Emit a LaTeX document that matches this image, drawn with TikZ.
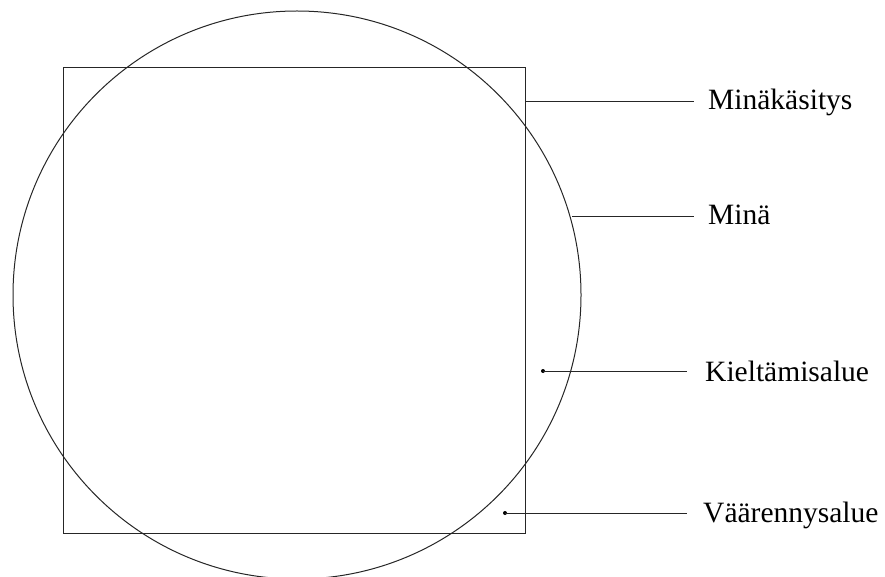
\documentclass[tikz,border=0pt]{standalone}
\usepackage{fontspec}
\setmainfont{Liberation Serif}
\begin{document}
\begin{tikzpicture}[x=1pt,y=-1pt,
  shape line/.style={line width=1pt,draw=black!85},
  leader/.style={line width=1pt,draw=black!85},
  label text/.style={anchor=base west,inner sep=0pt,font=\fontsize{29.5}{31}\selectfont},
  end dot/.style={circle,fill=black,inner sep=0pt,minimum size=4pt}]
\useasboundingbox (0,0) rectangle (885,577);
% self and self-concept
\draw[shape line] (297,295) circle (284);
\draw[shape line] (63,68) rectangle (525,533);
% labels
\node[label text] (konsepti) at (708,110) {Minäkäsitys};
\node[label text] (mina) at (708,225) {Minä};
\node[label text] (kielto) at (705,381) {Kieltämisalue};
\node[label text] (vaarennys) at (703,522) {Väärennysalue};
% leader line end points
\coordinate (p1) at (525,102);
\coordinate (q1) at (694,102);
\coordinate (p2) at (572,217);
\coordinate (q2) at (694,217);
\node[end dot] (p3) at (543,371) {};
\coordinate (q3) at (687,371);
\node[end dot] (p4) at (505,513) {};
\coordinate (q4) at (687,513);
\draw[leader] (p1) -- (q1);
\draw[leader] (p2) -- (q2);
\draw[leader] (p3.center) -- (q3);
\draw[leader] (p4.center) -- (q4);
\end{tikzpicture}
\end{document}
